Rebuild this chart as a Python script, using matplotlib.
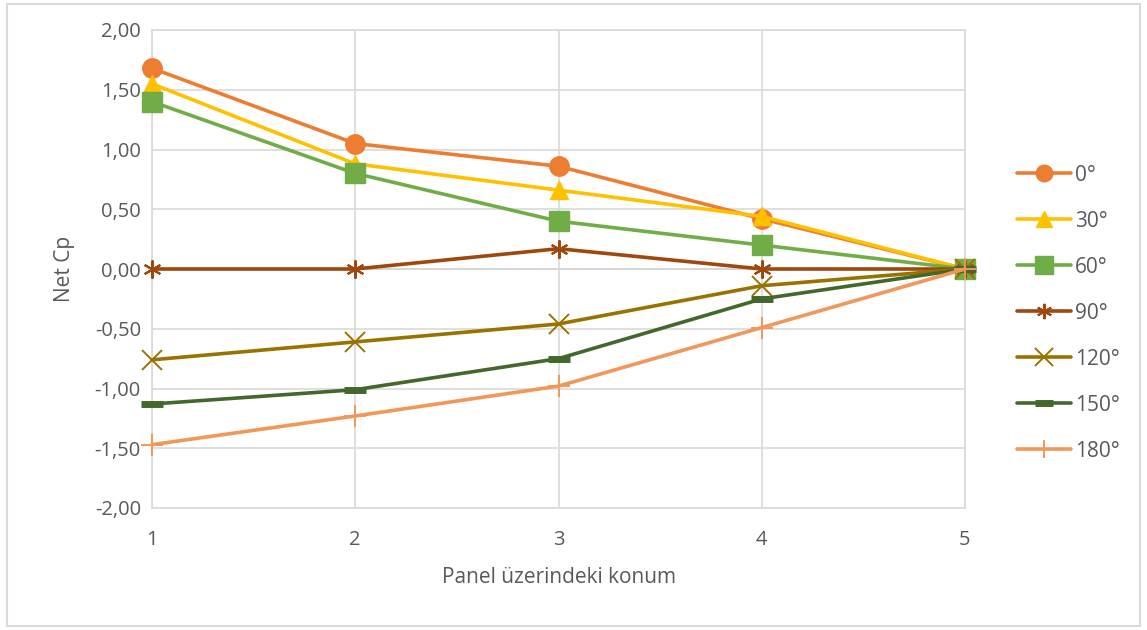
import matplotlib
matplotlib.use("Agg")
import matplotlib.pyplot as plt
from matplotlib.patches import Rectangle
from matplotlib.ticker import FuncFormatter

plt.rcParams['font.family'] = ['Open Sans', 'DejaVu Sans']

positions = [1, 2, 3, 4, 5]
labels = ["0°", "30°", "60°", "90°", "120°", "150°", "180°"]
cp_0 = [1.68, 1.05, 0.86, 0.42, 0.0]
cp_30 = [1.55, 0.88, 0.66, 0.44, 0.0]
cp_60 = [1.40, 0.80, 0.40, 0.20, 0.0]
cp_90 = [0.0, 0.0, 0.17, 0.0, 0.0]
cp_120 = [-0.76, -0.61, -0.46, -0.14, 0.0]
cp_150 = [-1.13, -1.01, -0.75, -0.25, 0.0]
cp_180 = [-1.47, -1.23, -0.98, -0.49, 0.0]
series = [cp_0, cp_30, cp_60, cp_90, cp_120, cp_150, cp_180]

colors = ['#ED7D31', '#FFC000', '#70AD47', '#9E480E', '#997300', '#43682B', '#F1975A']
markers = ['o', '^', 's', (6, 2, 0), 'x', '_', '+']
msizes = [14, 13, 15, 13, 15, 16, 16]
mews = [1, 1, 1, 1.5, 1.4, 5, 1.4]

fig = plt.figure(figsize=(11.47, 6.3), dpi=100)
ax = fig.add_axes([152/1147, 1-508/630, (965-152)/1147, (508-30)/630])

for vals, lab, c, m, ms, mew in zip(series, labels, colors, markers, msizes, mews):
    ax.plot(positions, vals, color=c, lw=2.6, marker=m, markersize=ms,
            markeredgewidth=mew, markerfacecolor=c, markeredgecolor=c,
            label=lab, solid_capstyle='round', zorder=3, clip_on=False)

ax.set_xlim(1, 5)
ax.set_ylim(-2, 2)
ax.set_xticks(positions)
ax.set_yticks([-2, -1.5, -1, -0.5, 0, 0.5, 1, 1.5, 2])
ax.yaxis.set_major_formatter(FuncFormatter(lambda v, p: f"{v:.2f}".replace('.', ',')))
ax.grid(True, color='#D9D9D9', lw=1.2, zorder=0)
ax.axhline(0, color='#BFBFBF', lw=1.2, zorder=1)
for s in ax.spines.values():
    s.set_color('#D9D9D9')
    s.set_linewidth(1.2)
ax.tick_params(axis='both', length=0, labelsize=14.5, colors='#595959')
ax.tick_params(axis='x', pad=16)
ax.tick_params(axis='y', pad=8)
ax.set_xlabel("Panel üzerindeki konum", fontsize=15, color='#595959', labelpad=12)
ax.set_ylabel("Net Cp", fontsize=15, color='#595959', labelpad=14)
for lab in ax.get_yticklabels() + ax.get_xticklabels():
    lab.set_color('#595959')

leg = fig.legend(loc='center left', bbox_to_anchor=(0.870, 0.503), frameon=False,
                 fontsize=15, handlelength=2.6, labelspacing=1.2, handletextpad=0.2,
                 markerscale=0.85)
for t in leg.get_texts():
    t.set_color('#595959')

fig.patches.append(Rectangle((7/1147, 4/630), 1133/1147, 622/630, transform=fig.transFigure,
                             fill=False, edgecolor='#D9D9D9', lw=1.5))

fig.savefig("out.png", dpi=100)
